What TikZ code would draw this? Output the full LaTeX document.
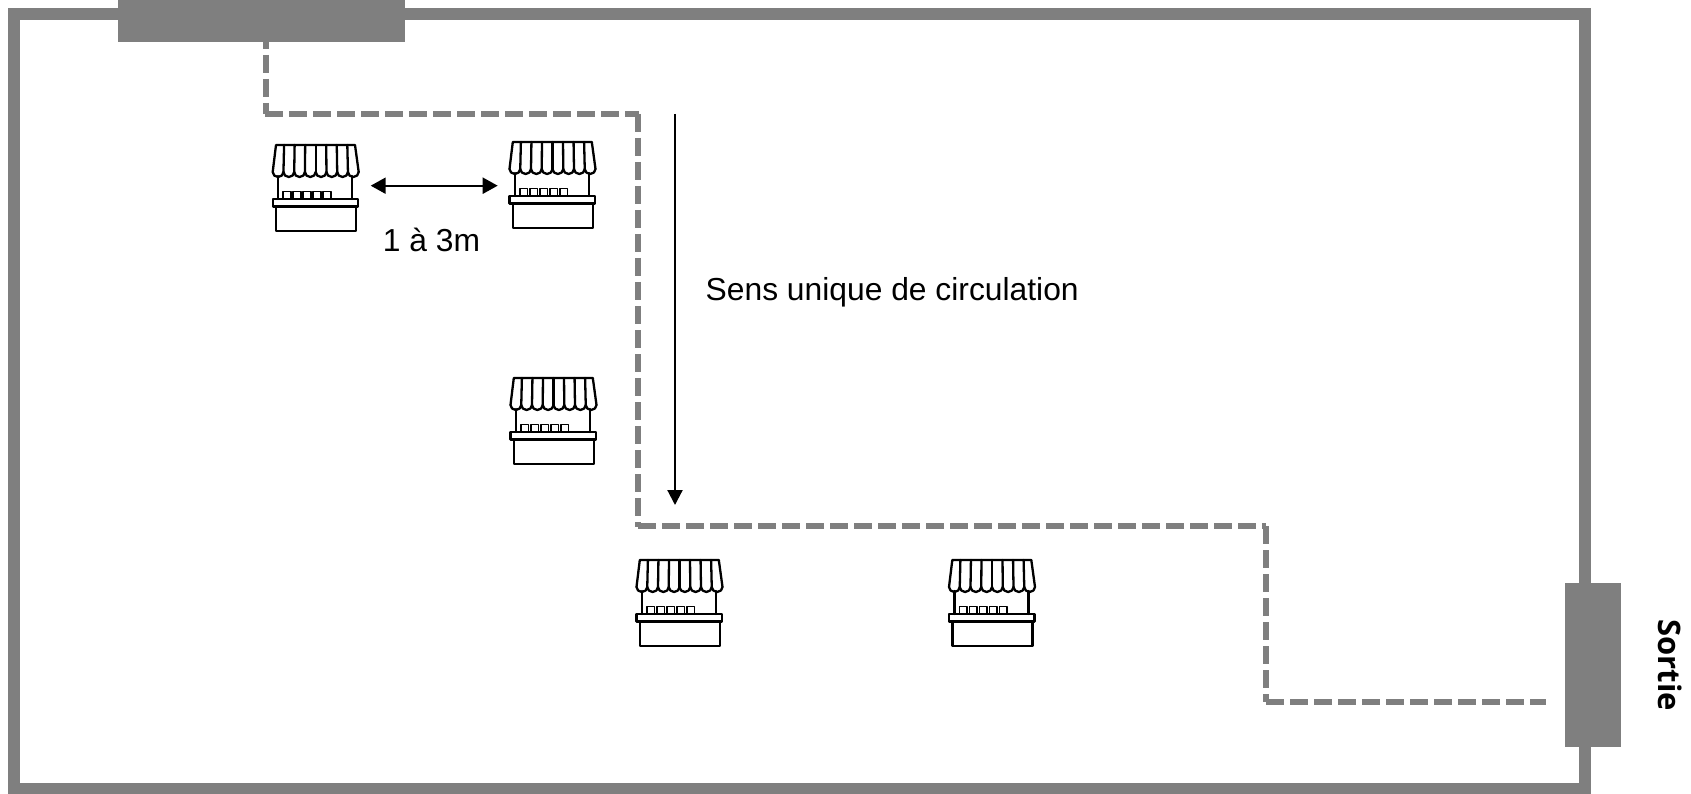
\documentclass[tikz,border=0pt]{standalone}
\usepackage{fontspec}
\setmainfont{Liberation Sans}
\newfontfamily\sortiefont{Open Sans}
\usetikzlibrary{arrows.meta}
\definecolor{wallgrey}{HTML}{7F7F7F}
\tikzset{
  x=1pt,y=-1pt,
  wall/.style={draw=wallgrey,line width=12pt,miter limit=10},
  door/.style={fill=wallgrey,draw=none},
  route/.style={draw=wallgrey,line width=6pt,dash pattern=on 18pt off 6pt},
  flow/.style={draw=black,line width=2.2pt,-{Triangle[length=15pt,width=15pt]}},
  flowboth/.style={draw=black,line width=2.2pt,{Triangle[length=15pt,width=16pt]}-{Triangle[length=15pt,width=16pt]}},
  label/.style={inner sep=0pt,anchor=base,font=\fontsize{31.8}{36}\selectfont},
  stall/.pic={
    \begin{scope}[line width=2.3pt,line join=round,line cap=round]
      \draw (0,27) -- (3.3,0) -- (82.3,0) -- (86,27);
      \foreach \i in {1,...,7}{
        \draw ({43+(\i*10.75-43)*0.98},0) -- ({\i*10.75},27);
      }
      \foreach \i in {0,...,7}{
        \draw ({\i*10.75},27) arc[start angle=180,end angle=0,x radius=5.375,y radius=5];
      }
      \draw (5.6,31) -- (5.6,54) (79.5,31) -- (79.5,54);
      \draw (0,54) rectangle (85.5,61.5);
      \draw (3.5,61.5) rectangle (83.5,86);
      \foreach \i in {0,...,4}{
        \draw[line width=1.7pt] ({10.6+\i*10},54) -- ({10.6+\i*10},46.5) -- ({18+\i*10},46.5) -- ({18+\i*10},54);
      }
    \end{scope}
  }
}
\begin{document}
\begin{tikzpicture}
  \path[use as bounding box,fill=white] (0,0) rectangle (1691,794);
  \clip (0,0) rectangle (1691,794);
  % route corners
  \coordinate (r0) at (265.5,31);
  \coordinate (r1) at (265.5,114);
  \coordinate (r1b) at (265,114);
  \coordinate (r2) at (638.5,114);
  \coordinate (r2b) at (638,114);
  \coordinate (r3) at (638,527);
  \coordinate (r3b) at (638,526);
  \coordinate (r4) at (1266,526);
  \coordinate (r4b) at (1266,526);
  \coordinate (r5) at (1266,702);
  \coordinate (r5b) at (1266,702);
  \coordinate (r6) at (1546,702);
  % room
  \draw[wall] (13.5,14) rectangle (1584.5,789);
  % routes
  \draw[route] (r0) -- (r1);
  \draw[route] (r1b) -- (r2);
  \draw[route] (r2b) -- (r3);
  \draw[route] (r3b) -- (r4);
  \draw[route] (r4b) -- (r5);
  \draw[route] (r5b) -- (r6);
  % doors
  \path[door] (118,0) rectangle (405,41.7);
  \path[door] (1565,583) rectangle (1621,747);
  % stalls
  \pic at (272.7,145) {stall};
  \pic at (509.5,142) {stall};
  \pic at (510.5,378) {stall};
  \pic at (636.5,560) {stall};
  \pic at (949,560) {stall};
  % arrows
  \coordinate (spanA) at (370.7,185.7);
  \coordinate (spanB) at (497.7,185.7);
  \draw[flowboth] (spanA) -- (spanB);
  \coordinate (flowA) at (675,114);
  \coordinate (flowB) at (675,505);
  \draw[flow] (flowA) -- (flowB);
  % labels
  \node[label] (gap) at (431.5,251.5) {1 à 3m};
  \node[label,anchor=base west] (sens) at (705.5,300) {Sens unique de circulation};
  \node[inner sep=0pt,rotate=-90,anchor=base,font=\sortiefont\bfseries\fontsize{31}{34}\selectfont] (sortie) at (1658,665) {Sortie};
\end{tikzpicture}
\end{document}
